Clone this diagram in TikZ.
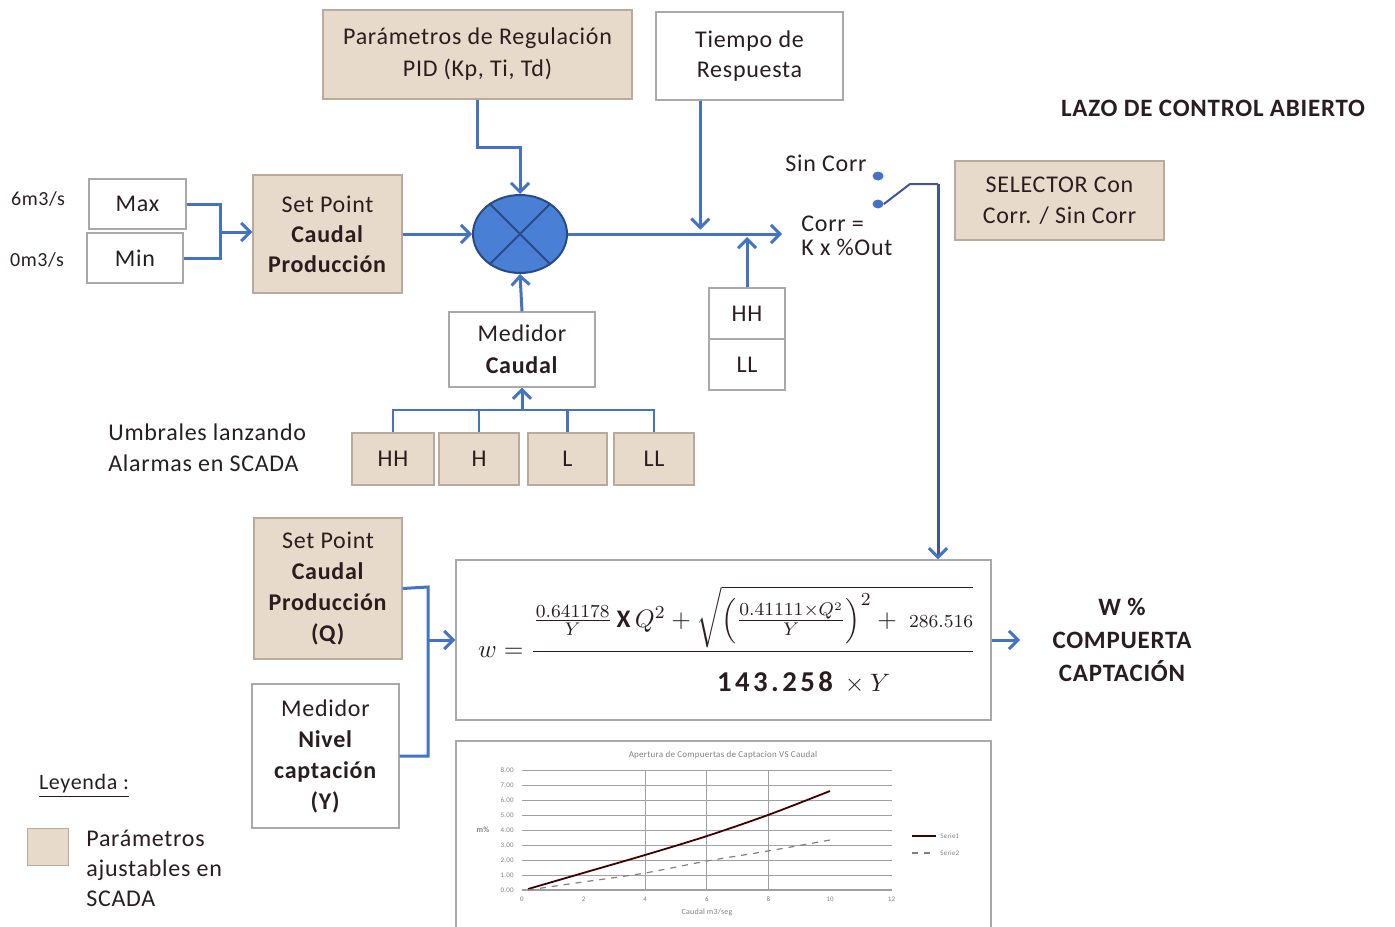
\documentclass[tikz,border=0pt]{standalone}
\usepackage{amsmath}
\usepackage{fontspec}
\setmainfont{Carlito}[LetterSpace=3]
\usetikzlibrary{arrows.meta,calc,shapes.geometric}
\definecolor{ink}{HTML}{2B1D1F}
\definecolor{tanfill}{HTML}{E8DACA}
\definecolor{tanedge}{HTML}{B9AA9C}
\definecolor{boxgray}{HTML}{A9A9A9}
\definecolor{flow}{HTML}{4472C4}
\definecolor{sumfill}{HTML}{4A7FD6}
\definecolor{sumedge}{HTML}{2A4A86}
\definecolor{darkflow}{HTML}{3F559C}
\definecolor{gridgray}{HTML}{A0A0A0}
\begin{document}
\begin{tikzpicture}[x=0.5pt,y=-0.5pt,
  every node/.style={text=ink},
  box/.style={draw=boxgray, line width=0.7pt, fill=white, align=center,
    inner sep=0pt, font=\fontsize{12}{15.5}\selectfont},
  tanbox/.style={box, fill=tanfill, draw=tanedge},
  link/.style={draw=flow, line width=1.5pt},
  arr/.style={link, -{Straight Barb[length=4.5pt,width=9pt]}},
  label/.style={align=left, inner sep=0pt, font=\fontsize{12}{15.5}\selectfont},
  tiny/.style={inner sep=0pt, font=\fontsize{3.5}{4}\selectfont, text=gray}]
\useasboundingbox (0,0) rectangle (1395,926);

% ---------- upper loop: set point, PID and summing junction ----------
\node[tanbox, minimum width=154.5pt, minimum height=44.5pt, font=\fontsize{12}{16}\selectfont]
  (pid) at (477.5,54.5) {Parámetros de Regulación\\PID (Kp, Ti, Td)};
\node[box, minimum width=93.5pt, minimum height=44pt, font=\fontsize{12}{15}\selectfont]
  (tiempo) at (749.5,56) {Tiempo de\\Respuesta};
\node[box, minimum width=48.5pt, minimum height=25pt] (max) at (137.5,204) {Max};
\node[box, minimum width=48pt, minimum height=25pt] (min) at (135,258) {Min};
\node[label, font=\fontsize{10}{12}\selectfont] (vmax) at (38,199) {6m3/s};
\node[label, font=\fontsize{10}{12}\selectfont] (vmin) at (37,260) {0m3/s};
\node[tanbox, minimum width=74.5pt, minimum height=59pt, font=\fontsize{12}{15}\selectfont]
  (sp) at (327.5,234) {Set Point\\\textbf{Caudal}\\\textbf{Producción}};
\node[ellipse, draw=sumedge, line width=1pt, fill=sumfill, minimum width=47pt,
  minimum height=39pt, inner sep=0pt] (sum) at (520,234) {};
\draw[sumedge, line width=0.9pt] (sum.45) -- (sum.225) (sum.135) -- (sum.315);

\node[box, minimum width=73pt, minimum height=37.5pt, font=\fontsize{12}{16}\selectfont]
  (med) at (522,349.5) {Medidor\\\textbf{Caudal}};
\node[box, minimum width=38pt, minimum height=25.5pt] (hh) at (747,313.5) {HH};
\node[box, minimum width=38pt, minimum height=25.5pt] (ll) at (747,364.5) {LL};

\node[tanbox, minimum width=41pt, minimum height=26pt] (a1) at (393,459) {HH};
\node[tanbox, minimum width=40pt, minimum height=26pt] (a2) at (479,459) {H};
\node[tanbox, minimum width=39.5pt, minimum height=26pt] (a3) at (567.5,459) {L};
\node[tanbox, minimum width=40pt, minimum height=26pt] (a4) at (654,459) {LL};
\node[label, anchor=west] (umb) at (108,448) {Umbrales lanzando\\Alarmas en SCADA};

% output of the loop and the correction selector
\coordinate (out) at (782,234);
\node[label] (sincorr) at (826,163) {Sin Corr};
\node[label, anchor=west, font=\fontsize{12}{12}\selectfont] (corr) at (801,236) {Corr =\\K x \%Out};
\node[ellipse, fill=flow, minimum width=5.5pt, minimum height=4.5pt, inner sep=0pt] (d1) at (878,176) {};
\node[ellipse, fill=flow, minimum width=5.5pt, minimum height=4.5pt, inner sep=0pt] (d2) at (878,204) {};
\coordinate (sw) at (938,184);
\node[tanbox, minimum width=104.5pt, minimum height=39.5pt, font=\fontsize{12}{15.5}\selectfont]
  (sel) at (1059.5,200.5) {SELECTOR Con\\Corr. / Sin Corr};
\node[label, font=\bfseries\fontsize{12.5}{15}\selectfont] (title) at (1213,108) {LAZO DE CONTROL ABIERTO};

% connectors of the upper loop
\draw[link] (max.east) -- (220,204) |- (min.east);
\coordinate (mm) at (220,232);
\draw[arr] (mm) -- (sp.west |- mm);
\draw[arr] (sp.east) -- (sum.west);
\draw[arr] (pid.south) -- ++(0,48) -| (sum.north);
\draw[arr] ($(tiempo.south west)+(45,0)$) -- ($(tiempo.south west)+(45,129)$);
\draw[arr] (sum.east) -- (out);
\draw[arr] (hh.north) -- (hh.north |- 0,237);
\draw[arr] (med.south |- 0,410) -- (med.south);
\draw[arr] (med.north) -- (sum.south);
\draw[link, line width=1.3pt] (a1.north) |- (a4.north |- 0,410) -- (a4.north);
\draw[link, line width=1.3pt] (a2.north) -- (a2.north |- 0,410);
\draw[link, line width=1.3pt] (a3.north) -- (a3.north |- 0,410);

% ---------- lower part: gate opening formula ----------
\node[draw=boxgray, line width=0.7pt, minimum width=267.5pt, minimum height=80pt, inner sep=0pt]
  (fbox) at (723.5,640) {};
\node[inner sep=0pt, font=\fontsize{11}{13}\selectfont] (formula) at (727,640)
  {\scalebox{1.15}{$w=\dfrac{\frac{0.641178}{Y}\,\mathbf{X}\,Q^2+\sqrt{\left(\frac{0.41111\times Q^2}{Y}\right)^{2}+\ {\scriptstyle 286.516}}}{\rule{0pt}{16pt}\hspace{4em}\text{\fontsize{12.5}{14}\bfseries\addfontfeatures{LetterSpace=12}143.258}\ \times Y}$}};
\draw[darkflow, line width=1pt] (d2.east) -- (910,184) -- (sw);
\draw[darkflow, line width=1.5pt, -{Straight Barb[length=4.5pt,width=9pt,color=flow]}] (sw) -- (fbox.north -| sw);

\node[tanbox, minimum width=74pt, minimum height=70.5pt, font=\fontsize{12}{15.5}\selectfont]
  (spq) at (328,588.5) {Set Point\\\textbf{Caudal}\\\textbf{Producción}\\\textbf{(Q)}};
\node[box, minimum width=73.5pt, minimum height=72pt, font=\fontsize{12}{15.5}\selectfont]
  (niv) at (325.5,756) {Medidor\\\textbf{Nivel}\\\textbf{captación}\\\textbf{(Y)}};
\draw[link] (spq.east) -- (428,587) |- (niv.east);
\coordinate (qy) at (428,640);
\draw[arr] (qy) -- (fbox.west |- qy);

\node[align=center, inner sep=0pt, font=\bfseries\fontsize{12.5}{16.5}\selectfont]
  (wout) at (1122,640) {W \%\\COMPUERTA\\CAPTACIÓN};
\draw[arr, shorten >=2pt] (fbox.east) -- (1024,640);

% ---------- chart of gate opening versus flow ----------
\draw[boxgray, line width=0.7pt] (456,930) -- (456,741) -- (991,741) -- (991,930);
\node[tiny, font=\fontsize{4.5}{5}\selectfont] (ctitle) at (723,755) {Apertura de Compuertas de Captacion VS Caudal};
\foreach \k in {1,...,8}
  \draw[gridgray, line width=0.5pt] (522,890-15*\k) -- (892,890-15*\k);
\foreach \u in {4,6,8}
  \draw[gridgray, line width=0.5pt] (522+30.8*\u,770) -- (522+30.8*\u,890);
\draw[gridgray, line width=0.6pt] (522,890) -- (892,890);
\foreach \u in {0,2,...,12}
  \node[tiny] at (522+30.8*\u,899) {\u};
\foreach \k in {0,...,8}
  \node[tiny, anchor=east] at (514,890-15*\k) {\k.00};
\node[tiny, font=\bfseries\fontsize{4}{5}\selectfont] (ylab) at (483,830) {m\%};
\node[tiny, font=\fontsize{4}{5}\selectfont] (xlab) at (707,912) {Caudal m3/seg};
\draw[black!75!red, line width=0.9pt]
  plot[smooth] coordinates {(528,889) (583,873) (645,855) (707,836) (768,815) (830,791)};
\draw[gray, line width=0.6pt, dashed]
  plot[smooth] coordinates {(528,890) (583,882) (645,873) (707,861) (768,851) (830,840)};
\draw[black!75!red, line width=0.9pt] (912,836) -- (936,836);
\draw[gray, line width=0.6pt, dashed] (912,853) -- (936,853);
\node[tiny, anchor=west] (s1) at (940,836) {Serie1};
\node[tiny, anchor=west] (s2) at (940,853) {Serie2};

% ---------- legend ----------
\node[label, font=\fontsize{11}{13}\selectfont] (ley) at (84,786) {\underline{Leyenda :}};
\node[draw=tanedge, fill=tanfill, minimum width=20.5pt, minimum height=18.5pt, inner sep=0pt]
  (swatch) at (47.5,846.5) {};
\node[label, anchor=west, font=\fontsize{12}{15}\selectfont] (legtxt) at (86,868)
  {Parámetros\\ajustables en\\SCADA};
\end{tikzpicture}
\end{document}
